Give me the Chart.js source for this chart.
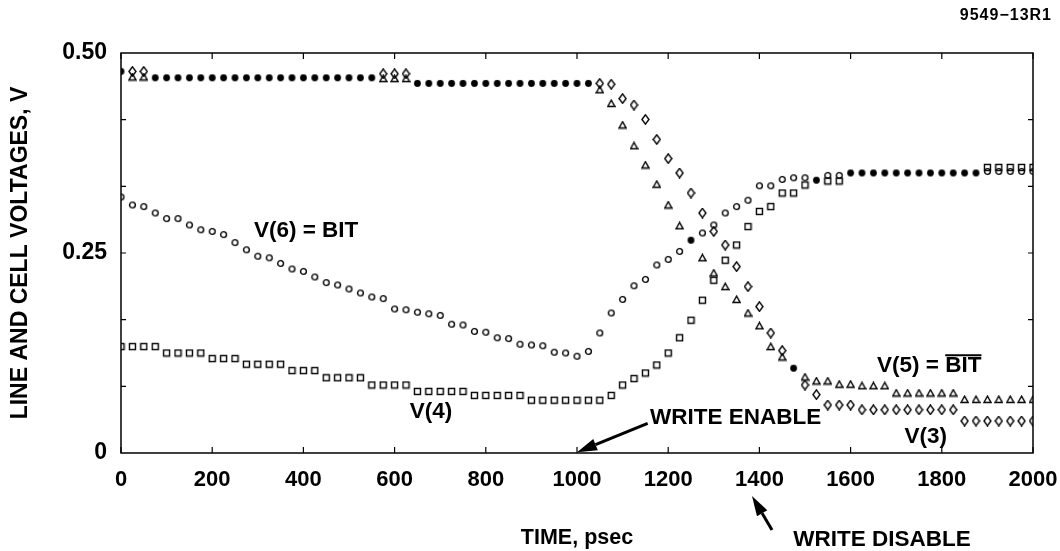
<!DOCTYPE html>
<html><head><meta charset="utf-8">
<script src="https://cdn.jsdelivr.net/npm/chart.js@4.4.1/dist/chart.umd.min.js"></script>
<style>html,body{margin:0;padding:0;background:#fff}canvas{display:block}</style>
</head><body>
<canvas id="c" width="1060" height="551"></canvas>
<script>
// ---- data (time in psec, voltages in V) ----
const timePs = [0,25,50,75,100,125,150,175,200,225,250,275,300,325,350,375,400,425,450,475,500,525,550,575,600,625,650,675,700,725,750,775,800,825,850,875,900,925,950,975,1000,1025,1050,1075,1100,1125,1150,1175,1200,1225,1250,1275,1300,1325,1350,1375,1400,1425,1450,1475,1500,1525,1550,1575,1600,1625,1650,1675,1700,1725,1750,1775,1800,1825,1850,1875,1900,1925,1950,1975,2000];
const v6Bit = [0.320,0.310,0.308,0.300,0.293,0.293,0.285,0.279,0.277,0.273,0.263,0.254,0.246,0.244,0.237,0.230,0.227,0.220,0.213,0.210,0.205,0.200,0.195,0.193,0.180,0.179,0.176,0.174,0.172,0.161,0.160,0.152,0.151,0.144,0.143,0.136,0.135,0.134,0.126,0.125,0.121,0.127,0.150,0.175,0.192,0.209,0.217,0.235,0.242,0.252,0.266,0.275,0.285,0.300,0.308,0.316,0.334,0.334,0.342,0.344,0.344,0.341,0.347,0.347,0.350,0.350,0.350,0.350,0.350,0.350,0.350,0.350,0.350,0.350,0.350,0.350,0.352,0.352,0.352,0.352,0.352];
const v4 = [0.133,0.133,0.133,0.133,0.125,0.125,0.125,0.125,0.118,0.118,0.118,0.111,0.111,0.111,0.111,0.103,0.103,0.103,0.094,0.094,0.094,0.094,0.085,0.085,0.085,0.085,0.077,0.077,0.077,0.077,0.077,0.072,0.072,0.072,0.072,0.072,0.066,0.066,0.066,0.066,0.066,0.066,0.066,0.072,0.085,0.093,0.100,0.110,0.125,0.144,0.166,0.191,0.216,0.241,0.260,0.283,0.302,0.308,0.325,0.325,0.335,0.341,0.340,0.340,0.350,0.350,0.350,0.350,0.350,0.350,0.350,0.350,0.350,0.350,0.350,0.350,0.357,0.357,0.357,0.357,0.357];
const v5BitBar = [0.477,0.470,0.470,0.469,0.469,0.469,0.469,0.469,0.469,0.469,0.469,0.469,0.469,0.469,0.469,0.469,0.469,0.469,0.469,0.469,0.469,0.469,0.469,0.468,0.468,0.468,0.462,0.462,0.462,0.462,0.462,0.462,0.462,0.462,0.462,0.462,0.462,0.462,0.462,0.462,0.462,0.462,0.454,0.437,0.410,0.384,0.360,0.336,0.310,0.284,0.266,0.244,0.225,0.208,0.192,0.175,0.159,0.133,0.120,0.106,0.095,0.090,0.090,0.086,0.086,0.084,0.084,0.084,0.075,0.075,0.075,0.075,0.075,0.075,0.067,0.067,0.067,0.067,0.067,0.067,0.067];
const v3 = [0.477,0.477,0.477,0.469,0.469,0.469,0.469,0.469,0.469,0.469,0.469,0.469,0.469,0.469,0.469,0.469,0.469,0.469,0.469,0.469,0.469,0.469,0.469,0.474,0.474,0.474,0.462,0.462,0.462,0.462,0.462,0.462,0.462,0.462,0.462,0.462,0.462,0.462,0.462,0.462,0.462,0.462,0.462,0.461,0.443,0.435,0.417,0.392,0.368,0.350,0.325,0.300,0.277,0.260,0.233,0.208,0.183,0.150,0.128,0.106,0.085,0.073,0.060,0.060,0.060,0.054,0.054,0.054,0.054,0.054,0.054,0.054,0.054,0.054,0.040,0.040,0.040,0.040,0.040,0.040,0.040];
const xTickValues = [0,200,400,600,800,1000,1200,1400,1600,1800,2000];
const yTickValues = [0,0.25,0.5];
const yTickLabels = ['0','0.25','0.50'];

// ---- marker glyphs ----
function glyph(w,h,draw){const c=document.createElement('canvas');c.width=w;c.height=h;const g=c.getContext('2d');g.strokeStyle='#000';g.fillStyle='#000';g.lineWidth=1.4;draw(g,w,h);return c;}
const gCircle = glyph(9,9,(g)=>{g.beginPath();g.arc(4.5,4.5,2.9,0,Math.PI*2);g.stroke();});
const gSquare = glyph(9,9,(g)=>{g.strokeRect(1.5,1.5,6,6);});
const gTri = glyph(9,9,(g)=>{g.beginPath();g.moveTo(1,7.5);g.lineTo(4.5,1.2);g.lineTo(8,7.5);g.closePath();g.stroke();});
const gDiamond = glyph(9,11,(g)=>{g.beginPath();g.moveTo(4.5,0.8);g.lineTo(8,5.5);g.lineTo(4.5,10.2);g.lineTo(1,5.5);g.closePath();g.stroke();});
const gDot = glyph(9,9,(g)=>{g.beginPath();g.arc(4.5,4.5,3.4,0,Math.PI*2);g.fill();});

const seriesList = [v6Bit, v4, v5BitBar, v3];
// when two curves print at the same spot, the plotter shows a filled dot
function coincideRole(si, i){
  const val = seriesList[si][i];
  let firstIdx = si, any = false;
  for(let k=0;k<seriesList.length;k++){
    if(k===si) continue;
    if(Math.abs(seriesList[k][i]-val) < 0.0008){ any = true; if(k<firstIdx) firstIdx=k; }
  }
  if(!any) return 'own';
  return firstIdx===si ? 'dot' : 'hide';
}
function mk(label, arr, si, g){
  return {
    label, data: timePs.map((t,i)=>({x:t,y:arr[i]})), showLine:false,
    pointStyle: (ctx)=>{const r=coincideRole(si,ctx.dataIndex); return r==='dot'?gDot:(r==='hide'?false:g);},
    pointRadius: (ctx)=> coincideRole(si,ctx.dataIndex)==='hide'?0:4,
    pointHoverRadius:4, borderColor:'#000', backgroundColor:'#000'
  };
}

const FONT = '"Liberation Sans", Arial, Helvetica, sans-serif';

const frame = {
  id:'frame',
  beforeDatasetsDraw(chart){
    const {ctx, chartArea:a, scales:{x,y}} = chart;
    ctx.save();
    ctx.strokeStyle='#000'; ctx.lineWidth=1.5;
    ctx.strokeRect(a.left, a.top, a.right-a.left, a.bottom-a.top);
    ctx.lineWidth=1.2;
    ctx.beginPath();
    xTickValues.forEach(v=>{const px=x.getPixelForValue(v);ctx.moveTo(px,a.bottom);ctx.lineTo(px,a.bottom-6);ctx.moveTo(px,a.top);ctx.lineTo(px,a.top+6);});
    for(let k=1;k<6;k++){const py=y.getPixelForValue(0.5*k/6);ctx.moveTo(a.left,py);ctx.lineTo(a.left+5,py);ctx.moveTo(a.right,py);ctx.lineTo(a.right-5,py);}
    ctx.stroke();
    ctx.restore();
  }
};

function arrow(ctx, x0,y0,x1,y1){
  const ang=Math.atan2(y1-y0,x1-x0), L=20, W=6;
  const bx=x1-L*Math.cos(ang), by=y1-L*Math.sin(ang);
  ctx.lineWidth=3;
  ctx.beginPath();ctx.moveTo(x0,y0);ctx.lineTo(bx,by);ctx.stroke();
  ctx.beginPath();ctx.moveTo(x1,y1);
  ctx.lineTo(bx+W*Math.sin(ang), by-W*Math.cos(ang));
  ctx.lineTo(bx-W*Math.sin(ang), by+W*Math.cos(ang));
  ctx.closePath();ctx.fill();
}

const annotate = {
  id:'annotate',
  afterDraw(chart){
    const {ctx, scales:{x,y}} = chart;
    ctx.save();
    ctx.fillStyle='#000'; ctx.strokeStyle='#000';
    ctx.font='bold 22.5px '+FONT; ctx.textBaseline='middle';
    const P=(t,v)=>[x.getPixelForValue(t), y.getPixelForValue(v)];
    let p;
    ctx.textAlign='center';
    p=P(406,0.2775); ctx.fillText('V(6) = BIT', p[0], p[1]);
    p=P(680,0.052); ctx.fillText('V(4)', p[0], p[1]);
    p=P(1765,0.02); ctx.fillText('V(3)', p[0], p[1]);
    ctx.textAlign='left';
    p=P(1160,0.044); ctx.fillText('WRITE ENABLE', p[0], p[1]);
    const a0=P(1155,0.037), a1=P(1000,0.001);
    arrow(ctx, a0[0], a0[1], a1[0], a1[1]);
    // V(5) = BIT-bar
    p=P(1658,0.109);
    const pre='V(5) = ';
    ctx.fillText(pre, p[0], p[1]);
    const bx=p[0]+ctx.measureText(pre).width;
    ctx.fillText('BIT', bx, p[1]);
    const bw=ctx.measureText('BIT').width;
    ctx.lineWidth=2; ctx.beginPath(); ctx.moveTo(bx, p[1]-10.5); ctx.lineTo(bx+bw, p[1]-10.5); ctx.stroke();
    // below axis
    ctx.textAlign='center';
    ctx.fillText('WRITE DISABLE', 882, 540);
    arrow(ctx, 772, 530, 752, 496);
    ctx.font='bold 16px '+FONT; ctx.textAlign='right';
    if('letterSpacing' in ctx) ctx.letterSpacing='1px';
    ctx.fillText('9549\u221213R1', 1052, 16);
    ctx.restore();
  }
};

new Chart(document.getElementById('c'), {
  type:'scatter',
  data:{ datasets:[
    mk('V(6) = BIT', v6Bit, 0, gCircle),
    mk('V(4)', v4, 1, gSquare),
    mk('V(5) = BIT\u0305', v5BitBar, 2, gTri),
    mk('V(3)', v3, 3, gDiamond)
  ]},
  options:{
    responsive:false, animation:false, devicePixelRatio:1,
    layout:{padding:{left:0,right:27,top:53,bottom:0}},
    plugins:{legend:{display:false}, tooltip:{enabled:false}},
    scales:{
      x:{ type:'linear', min:0, max:2000,
        afterBuildTicks:(s)=>{s.ticks=xTickValues.map(v=>({value:v}));},
        ticks:{color:'#000', font:{family:FONT, weight:'bold', size:22}, padding:14, maxRotation:0, autoSkip:false, callback:(v)=>String(v)},
        grid:{display:false, drawTicks:false}, border:{display:false},
        title:{display:true, text:'TIME, psec', color:'#000', font:{family:FONT, weight:'bold', size:21.5}, padding:{top:0,bottom:0}},
        afterFit:(s)=>{s.height=98; s.paddingLeft=0; s.paddingRight=0;}
      },
      y:{ min:0, max:0.5,
        afterBuildTicks:(s)=>{s.ticks=yTickValues.map(v=>({value:v}));},
        ticks:{color:'#000', font:{family:FONT, weight:'bold', size:23}, padding:14,
          callback:(v)=>{const i=yTickValues.findIndex(t=>Math.abs(t-v)<1e-9); return i>=0?yTickLabels[i]:'';}},
        grid:{display:false, drawTicks:false}, border:{display:false},
        title:{display:true, text:'LINE AND CELL VOLTAGES, V', color:'#000', font:{family:FONT, weight:'bold', size:23}, padding:{top:7,bottom:0}},
        afterFit:(s)=>{s.width=121; s.paddingTop=0; s.paddingBottom=0;}
      }
    }
  },
  plugins:[frame, annotate]
});
</script>
</body></html>
